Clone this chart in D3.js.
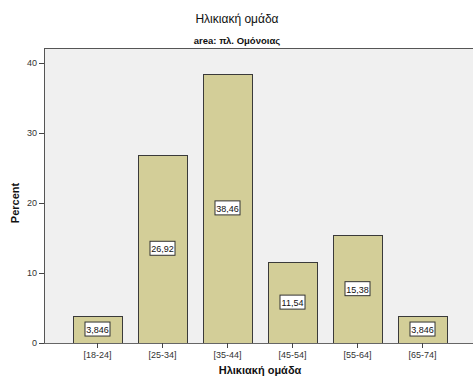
<!DOCTYPE html>
<html><head><meta charset="utf-8">
<script src="https://cdn.jsdelivr.net/npm/d3@7"></script>
<style>body{margin:0;background:#fff;}svg{display:block;font-family:Arial,"Liberation Sans",sans-serif;}</style>
</head><body><svg id="c" width="473" height="380"></svg>
<script>
const categories = ["[18-24]","[25-34]","[35-44]","[45-54]","[55-64]","[65-74]"];
const values = [3.846, 26.92, 38.46, 11.54, 15.38, 3.846];
const valueLabels = ["3,846","26,92","38,46","11,54","15,38","3,846"];
const yTicks = [0,10,20,30,40];

(function(){
const svg = d3.select("#c");
const pL = 44, pR = 473, pT = 48, pB = 343;
svg.append("rect").attr("x",pL).attr("y",pT).attr("width",pR-pL).attr("height",pB-pT).attr("fill","#f0f0f0");
svg.append("line").attr("x1",pL).attr("x2",pR).attr("y1",pT+0.5).attr("y2",pT+0.5).attr("stroke","#555");

const x = d3.scaleBand().domain(categories).range([65,455]).paddingInner(0.25).paddingOuter(0.125);
const y = d3.scaleLinear().domain([0,40]).range([pB,63]);

svg.selectAll(".bar").data(values).enter().append("rect")
  .attr("x",(d,i)=>Math.round(x(categories[i]))+0.5)
  .attr("y",d=>Math.round(y(d))+0.5)
  .attr("width",Math.round(x.bandwidth()))
  .attr("height",d=>pB-Math.round(y(d)))
  .attr("fill","#d3ce98").attr("stroke","#3a3a3a").attr("stroke-width",1);

const lab = svg.selectAll(".lab").data(values).enter().append("g")
  .attr("transform",(d,i)=>`translate(${x(categories[i])+x.bandwidth()/2},${y(d/2)})`);
lab.append("rect").attr("x",-12.5).attr("y",-7.5).attr("width",25).attr("height",14)
  .attr("fill","#fff").attr("stroke","#333");
lab.append("text").attr("text-anchor","middle").attr("y",3.5).attr("font-size",9).attr("fill","#111")
  .text((d,i)=>valueLabels[i]);

const yAxis = svg.append("g").attr("transform",`translate(${pL},0)`)
  .call(d3.axisLeft(y).tickValues(yTicks).tickSize(5).tickPadding(2));
yAxis.select(".domain").attr("stroke","#555").attr("d",`M0.5,${pT}V${pB}`);
yAxis.selectAll(".tick line").attr("stroke","#444");
yAxis.selectAll("text").attr("font-size",9).attr("fill","#333").attr("font-family","Arial,'Liberation Sans',sans-serif");

const xAxis = svg.append("g").attr("transform",`translate(0,${pB})`)
  .call(d3.axisBottom(x).tickSize(5).tickPadding(4));
xAxis.select(".domain").attr("stroke","#666").attr("d",`M${pL},0.5H${pR}`);
xAxis.selectAll(".tick line").attr("stroke","#444");
xAxis.selectAll("text").attr("font-size",9).attr("fill","#333").attr("font-family","Arial,'Liberation Sans',sans-serif");

svg.append("text").attr("x",237).attr("y",23).attr("text-anchor","middle").attr("font-size",12).attr("fill","#111").text("Ηλικιακή ομάδα");
svg.append("text").attr("x",237).attr("y",44).attr("text-anchor","middle").attr("font-size",9.5).attr("font-weight","bold").attr("fill","#111").text("area: πλ. Ομόνοιας");
svg.append("text").attr("transform","translate(19,203) rotate(-90)").attr("text-anchor","middle").attr("font-size",11).attr("font-weight","bold").attr("fill","#111").text("Percent");
svg.append("text").attr("x",260).attr("y",374).attr("text-anchor","middle").attr("font-size",11).attr("font-weight","bold").attr("fill","#111").text("Ηλικιακή ομάδα");
})();
</script></body></html>
